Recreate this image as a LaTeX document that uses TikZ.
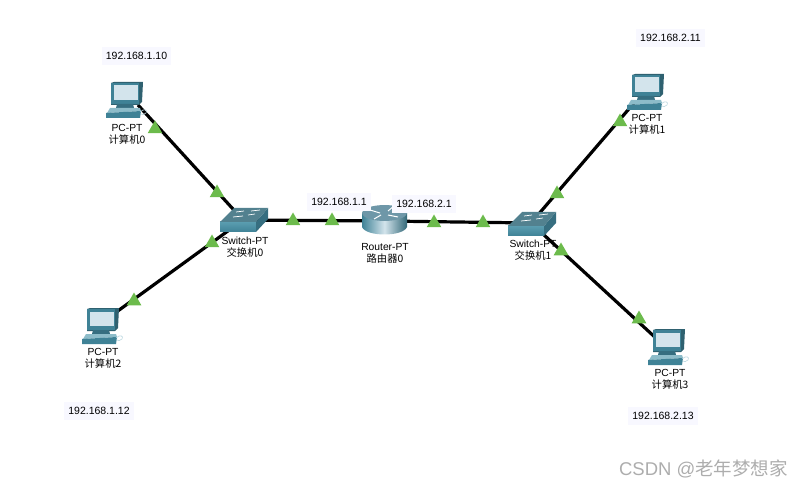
\documentclass[tikz,border=0pt]{standalone}
\usepackage{fontspec}
\setmainfont{Liberation Sans}
\newfontfamily\cjk{Noto Sans CJK SC}
\usetikzlibrary{shapes.geometric}
\definecolor{teald}{HTML}{3F8296}
\definecolor{tealm}{HTML}{5A9DB0}
\definecolor{teall}{HTML}{8DBCC9}
\definecolor{screenc}{HTML}{D3E4EC}
\definecolor{labbg}{HTML}{F8F8FF}
\definecolor{trig}{HTML}{6CBB4C}
\definecolor{rtop}{HTML}{6E97A8}
\tikzset{
  x=1pt,y=-1pt,
  wire/.style={line width=3.2pt,black},
  tri/.style={regular polygon,regular polygon sides=3,fill=trig,inner sep=0pt,minimum size=17pt,draw=none},
  addr/.style={fill=labbg,inner xsep=4pt,inner ysep=5pt,font=\fontsize{10.5}{12}\selectfont,text=black},
  devlab/.style={align=center,inner sep=0pt,font=\fontsize{10.3}{12}\selectfont,text=black},
  pcicon/.pic={
    % origin is the top-left corner of the icon
    \fill[teald!75!black] (5,1) -- (8,0) -- (37,0) -- (36,20) -- (33,23) -- (5,23) -- cycle;
    \fill[teald] (5,1) rectangle (33,22);
    \fill[screenc] (7.5,3.5) rectangle (31.5,18);
    \fill[teald!85!black] (11,22) -- (27,22) -- (28,26) -- (10,26) -- cycle;
    \fill[teall] (4,26) -- (34,26) -- (35,29) -- (1,31) -- cycle;
    \fill[teald] (0,31) -- (35,29) -- (34,36) -- (0,36) -- cycle;
    \draw[teall!60,line width=.6pt] (34,30) .. controls (38,26) and (42,28) .. (40,31) .. controls (38,33) and (36,33) .. (35,32);
  },
  swicon/.pic={
    % origin is the top-left corner of the icon
    \shade[top color=tealm,bottom color=teald] (0,14) -- (36,14) -- (36,24) -- (0,24) -- cycle;
    \fill[teald!85!black] (36,14) -- (48,0) -- (48,11) -- (36,24) -- cycle;
    \fill[teald!70!gray] (0,14) -- (14,0) -- (48,0) -- (36,14) -- cycle;
    \draw[white,line width=.7pt] (16,4) -- (24,3) (31,3) -- (40,2) (13,9) -- (23,8) (28,7) -- (35,6);
  },
  rticon/.pic={
    % origin is the top-left corner of the icon
    \shade[left color=teald,right color=teald!80!black,middle color=screenc] (0,8) -- (0,22) .. controls (4,32) and (41,32) .. (45,22) -- (45,8) -- cycle;
    \fill[rtop] (0,8) .. controls (2,-2.6) and (43,-2.6) .. (45,8) .. controls (43,18.6) and (2,18.6) .. (0,8) -- cycle;
    \draw[white,line width=1pt] (8,5) -- (18,8) (26,10) -- (36,12) (19,10) -- (12,14) (26,6) -- (32,1);
  }
}
\begin{document}
\begin{tikzpicture}
\useasboundingbox (0,0) rectangle (805,486);
% named attachment points
\coordinate (pc0) at (138,105);
\coordinate (pc1) at (634,103);
\coordinate (pc2) at (115,313);
\coordinate (pc3) at (658,340);
\coordinate (sw0) at (243,220);
\coordinate (sw1) at (531,223);
\coordinate (r0) at (384,221);
% connectors
\draw[wire] (pc0) -- (sw0);
\draw[wire] (pc2) -- (sw0);
\draw[wire] (sw0) -- (r0);
\draw[wire] (r0) -- (sw1);
\draw[wire] (sw1) -- (pc1);
\draw[wire] (sw1) -- (pc3);
% devices
\pic at (106,82) {pcicon};
\pic at (627,74) {pcicon};
\pic at (82,308) {pcicon};
\pic at (648,329) {pcicon};
\pic at (220,208) {swicon};
\pic at (508,212) {swicon};
\pic at (362,205) {rticon};
% link lights
\foreach \n/\a/\b in {a/155/129,b/217/193,c/293/221,d/332/221,e/434/223,f/483/223,g/557/194,h/620/122,i/561/251,j/639/319,k/212/243,l/134/301}
  \node[tri] (tri\n) at (\a,\b) {};
% device labels
\node[devlab] (lpc0) at (127,134) {PC-PT\\{\cjk 计算机0}};
\node[devlab] (lpc1) at (647,124) {PC-PT\\{\cjk 计算机1}};
\node[devlab] (lpc2) at (103,358) {PC-PT\\{\cjk 计算机2}};
\node[devlab] (lpc3) at (670,379) {PC-PT\\{\cjk 计算机3}};
\node[devlab] (lsw0) at (245,247) {Switch-PT\\{\cjk 交换机0}};
\node[devlab] (lsw1) at (533,250) {Switch-PT\\{\cjk 交换机1}};
\node[devlab] (lr0) at (385,253) {Router-PT\\{\cjk 路由器0}};
% address labels
\node[addr] (a1) at (136.5,56) {192.168.1.10};
\node[addr] (a2) at (670.5,38) {192.168.2.11};
\node[addr] (a3) at (99,411) {192.168.1.12};
\node[addr] (a4) at (663,416) {192.168.2.13};
\node[addr] (a5) at (339,202) {192.168.1.1};
\node[addr] (a6) at (424,204) {192.168.2.1};
% watermark
\node[inner sep=0pt,text=black!32,font=\fontsize{18.5}{20}\selectfont] (wm) at (703.5,469) {CSDN @{\cjk 老年梦想家}};
\end{tikzpicture}
\end{document}
